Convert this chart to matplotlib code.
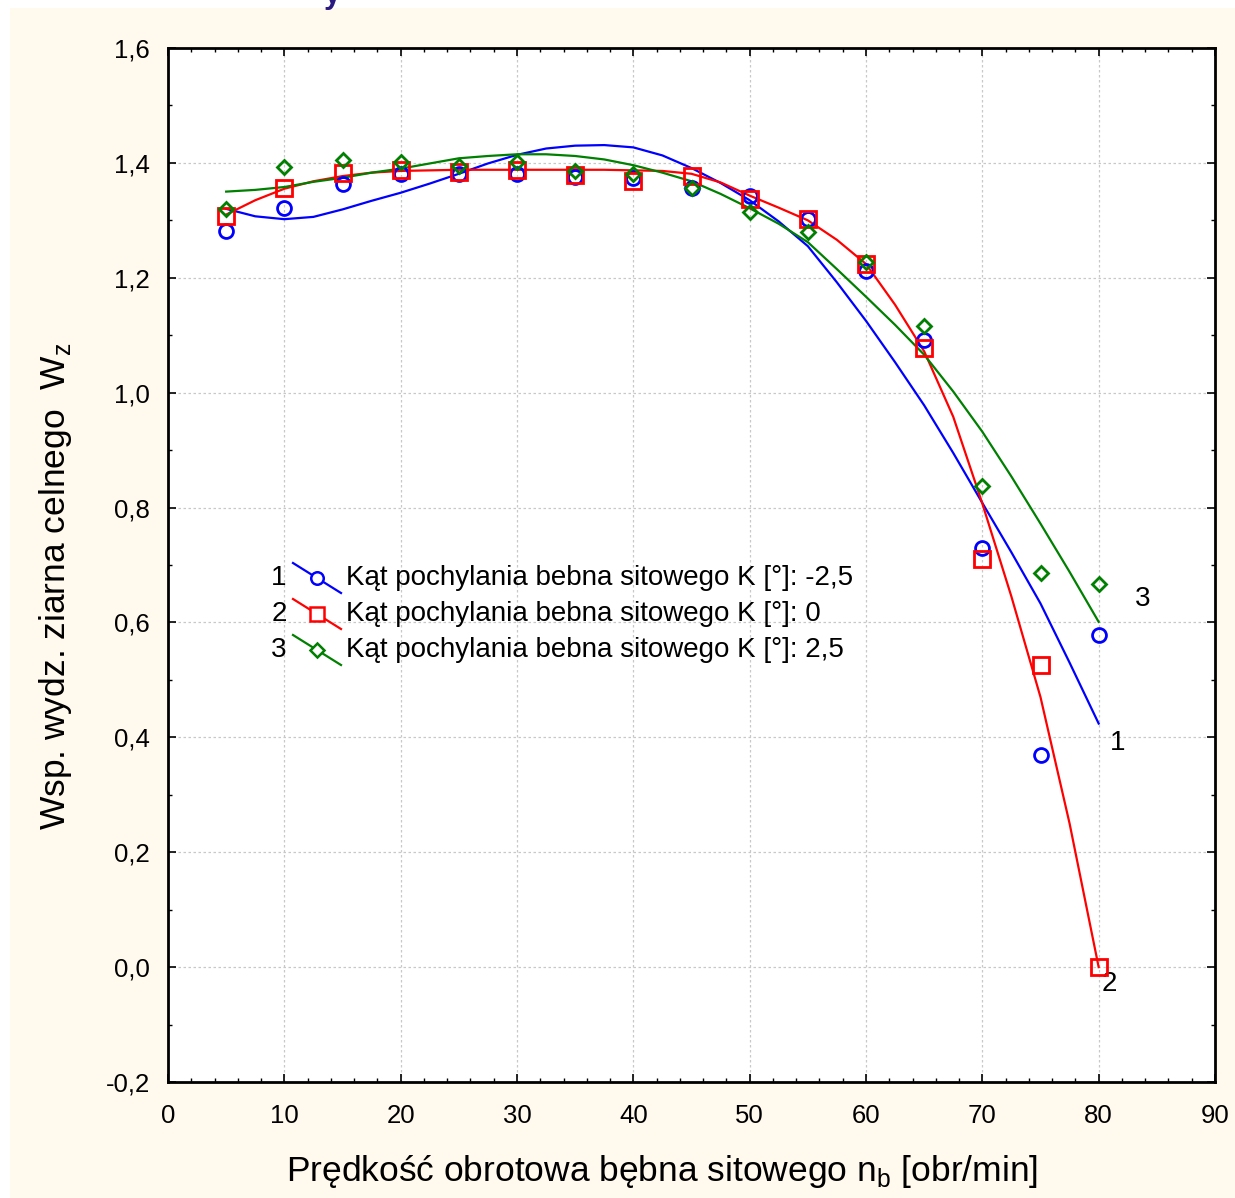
import numpy as np
import matplotlib.pyplot as plt
from matplotlib.patches import Rectangle

plt.rcParams['font.family'] = ['Liberation Sans', 'DejaVu Sans']

# pomiary: predkosc obrotowa bebna [obr/min]
n_b = [5, 10, 15, 20, 25, 30, 35, 40, 45, 50, 55, 60, 65, 70, 75, 80]
# wsp. wydzielania ziarna celnego dla trzech katow pochylenia
wz_m25 = [1.281, 1.321, 1.363, 1.381, 1.380, 1.380, 1.375, 1.373, 1.356, 1.342,
          1.302, 1.212, 1.092, 0.729, 0.369, 0.578]
wz_0 = [1.307, 1.356, 1.382, 1.387, 1.384, 1.387, 1.379, 1.368, 1.377, 1.337,
        1.302, 1.224, 1.078, 0.710, 0.526, 0.0]
wz_p25 = [1.320, 1.393, 1.405, 1.401, 1.394, 1.401, 1.386, 1.381, 1.356, 1.314,
          1.280, 1.227, 1.116, 0.837, 0.686, 0.667]

# krzywe dopasowania
fit_x = [5, 7.5, 10, 12.5, 15, 17.5, 20, 22.5, 25, 27.5, 30, 32.5, 35, 37.5, 40,
         42.5, 45, 47.5, 50, 52.5, 55, 57.5, 60, 62.5, 65, 67.5, 70, 72.5, 75, 77.5, 80]
fit_m25 = [1.320, 1.307, 1.302, 1.306, 1.319, 1.334, 1.348, 1.364, 1.381, 1.399,
           1.414, 1.425, 1.430, 1.431, 1.427, 1.413, 1.391, 1.365, 1.335, 1.298,
           1.255, 1.192, 1.125, 1.053, 0.978, 0.895, 0.808, 0.722, 0.633, 0.530, 0.424]
fit_0 = [1.310, 1.335, 1.355, 1.368, 1.377, 1.383, 1.386, 1.387, 1.388, 1.388,
         1.388, 1.388, 1.388, 1.388, 1.387, 1.386, 1.381, 1.366, 1.343, 1.322,
         1.300, 1.266, 1.224, 1.153, 1.072, 0.958, 0.807, 0.645, 0.470, 0.250, 0.0]
fit_p25 = [1.350, 1.353, 1.358, 1.367, 1.374, 1.383, 1.390, 1.399, 1.408, 1.412,
           1.415, 1.415, 1.412, 1.406, 1.396, 1.383, 1.368, 1.346, 1.321, 1.294,
           1.262, 1.215, 1.167, 1.118, 1.066, 1.002, 0.932, 0.854, 0.772, 0.688, 0.601]

labels = ['Kąt pochylania bebna sitowego K [°]: -2,5',
          'Kąt pochylania bebna sitowego K [°]: 0',
          'Kąt pochylania bebna sitowego K [°]: 2,5']

series = [
    (wz_m25, fit_m25, 'blue', 'o', 10, '1', (81.6, 0.39)),
    (wz_0, fit_0, 'red', 's', 11, '2', (80.9, -0.03)),
    (wz_p25, fit_p25, 'green', 'D', 7.5, '3', (83.8, 0.64)),
]

fig = plt.figure(figsize=(12.35, 11.98), dpi=100, facecolor='white')
# kremowe tlo jak w oryginale (biały pasek u góry i z lewej)
fig.patches.append(Rectangle((10 / 1235, 0), 1, 1 - 8 / 1198, transform=fig.transFigure,
                             facecolor='#fff9ee', edgecolor='none', zorder=-10))
# resztka tytułu ucięta u góry
fig.text(332 / 1235, 1 - 3 / 1198, 'y', color='#2a1a80', fontsize=22,
         fontweight='bold', ha='center', va='baseline')

ax = fig.add_axes([168 / 1235, 1 - 1082 / 1198, 1047 / 1235, 1034 / 1198])
ax.set_facecolor('white')

for data, fit, col, mk, ms, num, pos in series:
    ax.plot(fit_x, fit, color=col, lw=1.6, zorder=3)
for data, fit, col, mk, ms, num, pos in series:
    ax.plot(n_b, data, ls='none', marker=mk, ms=ms, mfc='none', mec=col, mew=2.0, zorder=4)
    ax.text(pos[0], pos[1], num, fontsize=20, ha='center', va='center')

ax.set_xlim(0, 90)
ax.set_ylim(-0.2, 1.6)
ax.set_xticks(np.arange(0, 91, 10))
ax.set_yticks(np.arange(-0.2, 1.61, 0.2))
ax.set_xticks(np.arange(0, 91, 2), minor=True)
ax.set_yticks(np.arange(-0.2, 1.61, 0.1), minor=True)
ax.set_yticklabels([f'{v:.1f}'.replace('.', ',') for v in np.arange(-0.2, 1.61, 0.2)])
ax.tick_params(which='both', direction='in', top=True, right=True, labelsize=18.5)
ax.tick_params(axis='x', pad=16)
ax.tick_params(axis='y', pad=13)
ax.tick_params(which='major', length=6, width=1.2)
ax.tick_params(which='minor', length=3, width=1.0)
ax.grid(True, which='major', ls=(0, (2, 2)), color='#c8c8c8', lw=0.9)
for sp in ax.spines.values():
    sp.set_linewidth(2)

ax.set_xlabel('Prędkość obrotowa bębna sitowego n$_\\mathregular{b}$ [obr/min]', fontsize=25.5)
ax.xaxis.set_label_coords((662 - 168) / 1047, (1082 - 1172) / 1034)
ax.xaxis.label.set_va('center')
ax.set_ylabel('Wsp. wydz. ziarna celnego  W$_\\mathregular{z}$', fontsize=25.5)
ax.yaxis.set_label_coords((56 - 168) / 1047, (1082 - 586) / 1034)
ax.yaxis.label.set_va('center')

# legenda w stylu Statistica: numer, ukośny odcinek z markerem, opis
fx = lambda px: (px - 168) / 1047
fy = lambda p: (1082 - p) / 1034
leg_x0, leg_y0, leg_dy = 279, 578, 36
for i, (data, fit, col, mk, ms, num, pos) in enumerate(series):
    py = leg_y0 + i * leg_dy
    ax.text(fx(leg_x0), fy(py), num, transform=ax.transAxes, fontsize=20,
            ha='center', va='center')
    ax.plot([fx(293), fx(341)], [fy(py - 15), fy(py + 15)], color=col, lw=1.6,
            transform=ax.transAxes, zorder=5)
    ax.plot([fx(317)], [fy(py)], marker=mk, ms=ms * 0.9, mfc='white', mec=col, mew=1.8,
            transform=ax.transAxes, zorder=6)
    ax.text(fx(346), fy(py), labels[i], transform=ax.transAxes, fontsize=20,
            ha='left', va='center')

fig.savefig('out.png', dpi=100, facecolor=fig.get_facecolor())
